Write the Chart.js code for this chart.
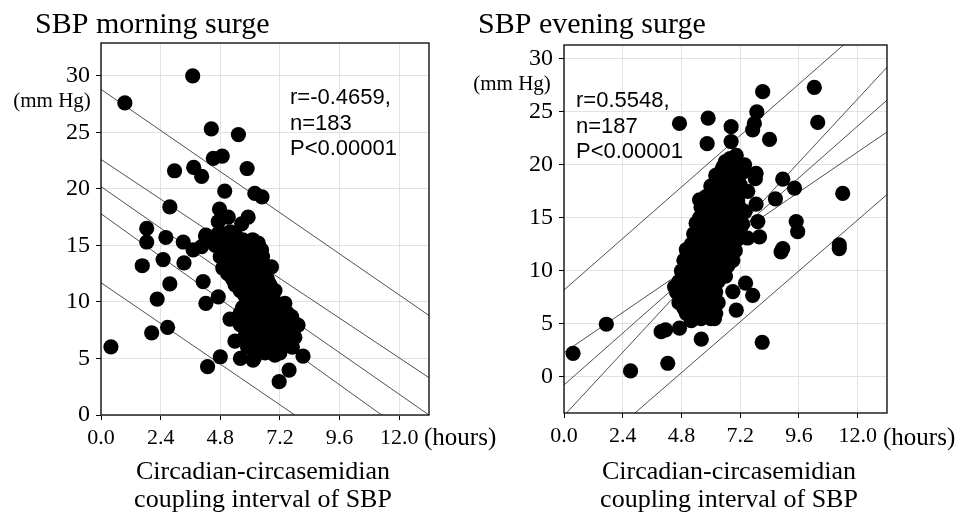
<!DOCTYPE html>
<html>
<head>
<meta charset="utf-8">
<title>SBP surge vs coupling interval</title>
<script src="https://cdn.jsdelivr.net/npm/chart.js@4.4.0/dist/chart.umd.min.js"></script>
<style>
  html, body { margin: 0; padding: 0; background: #fff; }
  #wrap { position: relative; width: 959px; height: 516px; overflow: hidden; }
  canvas { position: absolute; top: 0; }
</style>
</head>
<body>
<div id="wrap">
  <canvas id="morning" width="510" height="516" style="left:0"></canvas>
  <canvas id="evening" width="489" height="516" style="left:470px"></canvas>
</div>
<script>
// shared axis ticks
const xTicks = [0, 2.4, 4.8, 7.2, 9.6, 12.0];
const yTicks = [0, 5, 10, 15, 20, 25, 30];

// ---- SBP morning surge ----
const morningPoints = [
  [3.69, 30.0], [0.96, 27.6], [4.44, 25.3], [5.53, 24.8], [4.52, 22.7], [4.88, 22.9],
  [2.96, 21.6], [3.73, 21.9], [4.05, 21.1], [5.88, 21.8], [4.98, 19.8], [6.19, 19.6],
  [6.48, 19.3], [2.77, 18.4], [4.77, 18.2], [5.12, 17.5], [5.92, 17.5], [4.72, 17.1],
  [5.66, 16.9], [1.84, 16.5], [4.22, 15.9], [1.84, 15.3], [2.61, 15.7], [3.31, 15.3],
  [4.21, 15.8], [3.71, 14.6], [4.05, 14.9], [1.66, 13.2], [2.5, 13.75], [3.34, 13.45],
  [2.77, 11.6], [2.26, 10.25], [4.11, 11.8], [4.22, 9.87], [4.72, 10.45], [5.19, 8.48],
  [2.04, 7.27], [2.68, 7.75], [0.40, 6.03], [4.29, 4.27], [4.8, 5.15], [5.61, 5.0],
  [6.16, 5.0], [5.39, 6.54], [7.17, 2.95], [7.57, 3.97], [8.13, 5.2], [7.0, 5.3],
  [7.8, 6.86], [7.93, 7.95], [7.67, 8.7], [7.4, 9.87], [6.86, 13.1], [6.46, 14.6],
  [6.33, 15.2], [7.8, 8.1], [6.12, 4.86],
  // dense cluster
  [4.7, 16.0], [5.0, 16.0], [5.4, 16.0], [5.2, 16.2],
  [4.9, 15.5], [5.3, 15.5], [5.7, 15.5], [6.1, 15.5],
  [4.6, 15.0], [5.0, 15.0], [5.5, 15.0], [5.9, 15.0], [5.4, 14.8], [6.0, 14.8],
  [4.9, 14.5], [5.2, 14.5], [5.6, 14.5], [6.0, 14.5], [6.3, 14.5],
  [4.8, 14.0], [5.1, 14.0], [5.5, 14.0], [5.8, 14.0], [6.2, 14.0], [6.5, 14.0], [5.4, 13.8], [6.1, 13.8],
  [5.0, 13.5], [5.3, 13.5], [5.7, 13.5], [6.0, 13.5], [6.4, 13.5],
  [4.9, 13.0], [5.2, 13.0], [5.6, 13.0], [5.9, 13.0], [6.3, 13.0], [6.6, 13.0], [5.5, 12.8], [6.2, 12.8],
  [5.1, 12.5], [5.4, 12.5], [5.8, 12.5], [6.1, 12.5], [6.5, 12.5],
  [5.3, 12.0], [5.6, 12.0], [6.0, 12.0], [6.3, 12.0], [6.7, 12.0], [5.9, 11.8], [6.6, 11.8],
  [5.4, 11.5], [5.8, 11.5], [6.1, 11.5], [6.5, 11.5], [6.8, 11.5],
  [5.6, 11.0], [5.9, 11.0], [6.3, 11.0], [6.6, 11.0], [7.0, 11.0], [6.0, 10.8], [6.7, 10.8],
  [5.8, 10.5], [6.1, 10.5], [6.4, 10.5], [6.8, 10.5],
  [5.9, 10.0], [6.2, 10.0], [6.6, 10.0], [7.0, 10.0],
  [5.7, 9.5], [6.0, 9.5], [6.4, 9.5], [6.8, 9.5], [7.1, 9.5], [6.45, 9.2],
  [5.6, 9.0], [5.9, 9.0], [6.3, 9.0], [6.6, 9.0], [7.0, 9.0], [7.5, 9.0], [6.1, 8.8], [6.8, 8.8],
  [5.8, 8.5], [6.2, 8.5], [6.5, 8.5], [6.9, 8.5], [7.3, 8.5],
  [5.6, 8.0], [6.0, 8.0], [6.4, 8.0], [6.7, 8.0], [7.1, 8.0], [7.6, 8.0],
  [5.9, 7.5], [6.3, 7.5], [6.6, 7.5], [7.0, 7.5], [7.4, 7.5], [6.2, 7.3], [6.8, 7.3],
  [5.8, 7.0], [6.1, 7.0], [6.5, 7.0], [6.9, 7.0], [7.2, 7.0], [7.6, 7.0],
  [6.0, 6.5], [6.4, 6.5], [6.8, 6.5], [7.1, 6.5], [7.5, 6.5], [6.5, 6.2], [7.1, 6.2],
  [5.9, 6.0], [6.3, 6.0], [6.7, 6.0], [7.0, 6.0], [7.3, 6.0], [7.7, 6.0],
  [6.2, 5.5], [6.6, 5.5], [6.9, 5.5], [7.2, 5.5]
];
const morningLines = [
  [[0, 28.8], [13.2, 8.8]],
  [[0, 22.6], [13.2, 3.3]],
  [[0, 20.2], [13.2, 0]],
  [[0, 17.8], [13.2, -3.0]],
  [[0, 11.7], [13.2, -8.1]]
];
const morningStats = ['r=-0.4659,', 'n=183', 'P<0.00001'];

// ---- SBP evening surge ----
const eveningPoints = [
  [4.72, 23.9], [5.89, 24.4], [5.85, 22.0], [6.83, 23.6], [6.83, 22.2], [6.79, 20.6],
  [8.12, 26.9], [10.23, 27.3], [10.37, 24.0], [7.88, 25.0], [7.78, 23.9], [7.71, 23.3],
  [8.4, 22.4], [7.04, 20.9], [7.38, 20.0], [7.3, 19.3], [7.85, 19.2], [7.82, 18.7],
  [6.42, 19.4], [6.36, 18.4], [8.94, 18.65], [9.42, 17.8], [8.64, 16.8], [11.39, 17.3],
  [5.54, 16.7], [7.04, 17.3], [7.51, 17.5], [7.85, 16.3], [9.49, 14.65], [9.55, 13.7],
  [8.94, 12.1], [11.25, 12.45], [11.25, 12.1], [7.99, 13.2], [7.92, 14.65], [5.54, 15.0],
  [5.47, 13.2], [0.37, 2.23], [1.73, 4.97], [2.72, 0.57], [4.24, 1.29], [5.61, 3.56],
  [4.15, 4.43], [3.97, 4.27], [4.72, 4.6], [5.2, 5.3], [7.04, 6.3], [8.1, 3.27],
  [7.71, 7.7], [7.42, 8.84], [6.15, 5.5], [5.74, 5.7], [6.9, 8.05], [8.87, 11.8], [4.52, 8.5],
  // dense cluster
  [6.6, 20.3], [7.0, 20.5],
  [6.5, 19.8], [6.9, 20.0],
  [6.2, 19.0], [6.6, 19.0], [7.0, 19.1],
  [6.3, 18.5], [6.8, 18.4],
  [6.0, 18.0], [6.4, 18.0], [6.8, 17.9], [7.2, 18.1],
  [6.2, 17.5], [6.6, 17.5], [7.0, 17.4],
  [5.8, 17.0], [6.2, 17.0], [6.5, 16.9], [6.9, 17.0],
  [5.9, 16.5], [6.3, 16.5], [6.7, 16.4], [7.1, 16.6],
  [5.6, 16.0], [6.0, 16.0], [6.4, 16.0], [6.8, 16.0], [7.2, 15.9],
  [5.8, 15.5], [6.2, 15.5], [6.6, 15.5], [7.0, 15.4], [7.4, 15.6],
  [5.6, 15.0], [6.0, 15.0], [6.3, 15.0], [6.7, 15.0], [7.1, 15.0],
  [5.4, 14.5], [5.8, 14.5], [6.2, 14.5], [6.5, 14.5], [6.9, 14.5], [7.3, 14.4],
  [5.6, 14.0], [6.0, 14.0], [6.4, 14.0], [6.8, 14.0], [7.2, 14.0],
  [5.3, 13.5], [5.7, 13.5], [6.1, 13.5], [6.5, 13.5], [6.9, 13.5],
  [5.5, 13.0], [5.9, 13.0], [6.3, 13.0], [6.7, 13.0], [7.1, 13.0], [7.5, 13.1],
  [5.2, 12.5], [5.6, 12.5], [6.0, 12.5], [6.4, 12.5], [6.8, 12.5],
  [5.0, 12.0], [5.4, 12.0], [5.8, 12.0], [6.2, 12.0], [6.6, 12.0], [7.0, 11.9],
  [5.2, 11.5], [5.6, 11.5], [6.0, 11.5], [6.4, 11.5], [6.8, 11.5],
  [4.9, 11.0], [5.3, 11.0], [5.7, 11.0], [6.1, 11.0], [6.5, 11.0], [6.9, 11.0],
  [5.1, 10.5], [5.5, 10.5], [5.9, 10.5], [6.3, 10.5], [6.7, 10.5],
  [4.8, 10.0], [5.2, 10.0], [5.6, 10.0], [6.0, 10.0], [6.4, 10.0],
  [5.0, 9.5], [5.4, 9.5], [5.8, 9.5], [6.2, 9.5], [6.6, 9.5],
  [4.7, 9.0], [5.1, 9.0], [5.5, 9.0], [5.9, 9.0], [6.3, 9.0],
  [4.9, 8.5], [5.3, 8.5], [5.7, 8.5], [6.1, 8.5],
  [4.6, 8.0], [5.0, 8.0], [5.4, 8.0], [5.8, 8.0], [6.2, 8.0],
  [4.8, 7.5], [5.2, 7.5], [5.6, 7.5], [6.0, 7.5],
  [4.7, 7.0], [5.1, 7.0], [5.5, 7.0], [5.9, 7.0], [6.3, 7.0],
  [4.9, 6.5], [5.3, 6.5], [5.7, 6.5], [6.1, 6.5],
  [5.0, 6.0], [5.4, 6.0], [5.8, 6.0], [6.2, 6.0],
  [5.6, 5.5], [6.0, 5.5]
];
const eveningLines = [
  [[0, 8.2], [13.2, 34.9]],
  [[0, 2.3], [13.2, 23.1]],
  [[0, -0.75], [13.2, 26.1]],
  [[0, -3.65], [13.2, 29.2]],
  [[0, -9.2], [13.2, 17.2]]
];
const eveningStats = ['r=0.5548,', 'n=187', 'P<0.00001'];

const serif = 'Liberation Serif';
const sans = 'Liberation Sans';

// draws the free text (titles, units, stats)
const textPlugin = {
  id: 'texts',
  afterDraw(chart, args, opts) {
    const ctx = chart.ctx;
    ctx.save();
    ctx.fillStyle = '#000';
    ctx.textBaseline = 'alphabetic';
    opts.items.forEach(t => {
      ctx.font = t.font;
      ctx.textAlign = t.align || 'left';
      ctx.fillText(t.text, t.x, t.y);
    });
    ctx.restore();
  }
};

// black box round the plot area
const framePlugin = {
  id: 'frame',
  afterDatasetsDraw(chart) {
    const a = chart.chartArea, ctx = chart.ctx;
    ctx.save();
    ctx.strokeStyle = '#000';
    ctx.lineWidth = 1.3;
    ctx.strokeRect(a.left, a.top, a.right - a.left, a.bottom - a.top);
    ctx.restore();
  }
};

function makeChart(id, c) {
  const datasets = c.lines.map(l => ({
    data: l.map(p => ({ x: p[0], y: p[1] })),
    showLine: true,
    borderColor: '#3c3c3c',
    borderWidth: 0.9,
    pointRadius: 0,
    clip: 0,
    order: 2
  }));
  datasets.push({
    data: c.points.map(p => ({ x: p[0], y: p[1] })),
    backgroundColor: '#000',
    borderWidth: 0,
    pointRadius: 7.6,
    pointHoverRadius: 7.6,
    order: 1
  });

  const texts = [
    { text: c.title, font: '30px ' + serif, x: c.titleX, y: 33 },
    { text: '(mm Hg)', font: '21px ' + serif, x: c.unitX, y: c.unitY, align: 'center' },
    { text: '(hours)', font: '25px ' + serif, x: c.hoursX, y: 445 },
    { text: 'Circadian-circasemidian', font: '26px ' + serif, x: c.titleMid, y: 479, align: 'center' },
    { text: 'coupling interval of SBP', font: '26px ' + serif, x: c.titleMid, y: 507, align: 'center' }
  ];
  c.stats.forEach((s, i) => {
    texts.push({ text: s, font: '22px ' + sans, x: c.statX, y: c.statY[i] });
  });

  new Chart(document.getElementById(id), {
    type: 'scatter',
    data: { datasets },
    options: {
      responsive: false,
      animation: false,
      events: [],
      layout: { padding: { top: c.top, right: c.right, left: 0, bottom: 0 } },
      plugins: {
        legend: { display: false },
        tooltip: { enabled: false },
        texts: { items: texts }
      },
      scales: {
        x: {
          type: 'linear',
          min: 0,
          max: 13.2,
          afterBuildTicks: a => { a.ticks = xTicks.map(v => ({ value: v })); },
          afterFit: a => { a.height = c.xAxisH; },
          grid: { color: '#e2e2e2', tickColor: '#000', tickLength: 5 },
          border: { display: false },
          ticks: {
            font: { family: serif, size: 22 },
            color: '#000',
            padding: 5,
            maxRotation: 0,
            callback: v => Number(v).toFixed(1)
          }
        },
        y: {
          type: 'linear',
          min: c.yMin,
          max: c.yMax,
          afterBuildTicks: a => { a.ticks = yTicks.map(v => ({ value: v })); },
          afterFit: a => { a.width = c.yAxisW; },
          grid: { color: '#e2e2e2', tickColor: '#000', tickLength: 5 },
          border: { display: false },
          ticks: {
            font: { family: serif, size: 24 },
            color: '#000',
            padding: 6
          }
        }
      }
    },
    plugins: [framePlugin, textPlugin]
  });
}

makeChart('morning', {
  points: morningPoints, lines: morningLines, stats: morningStats,
  title: 'SBP morning surge', titleX: 35,
  unitX: 52, unitY: 107, hoursX: 424, titleMid: 263,
  statX: 290, statY: [104, 130, 155],
  top: 43, right: 81, xAxisH: 101, yAxisW: 101,
  yMin: 0, yMax: 32.9
});

makeChart('evening', {
  points: eveningPoints, lines: eveningLines, stats: eveningStats,
  title: 'SBP evening surge', titleX: 8,
  unitX: 42, unitY: 90, hoursX: 413, titleMid: 259,
  statX: 106, statY: [107, 133, 158],
  top: 45, right: 72, xAxisH: 103, yAxisW: 94,
  yMin: -3.4, yMax: 31.3
});
</script>
</body>
</html>
